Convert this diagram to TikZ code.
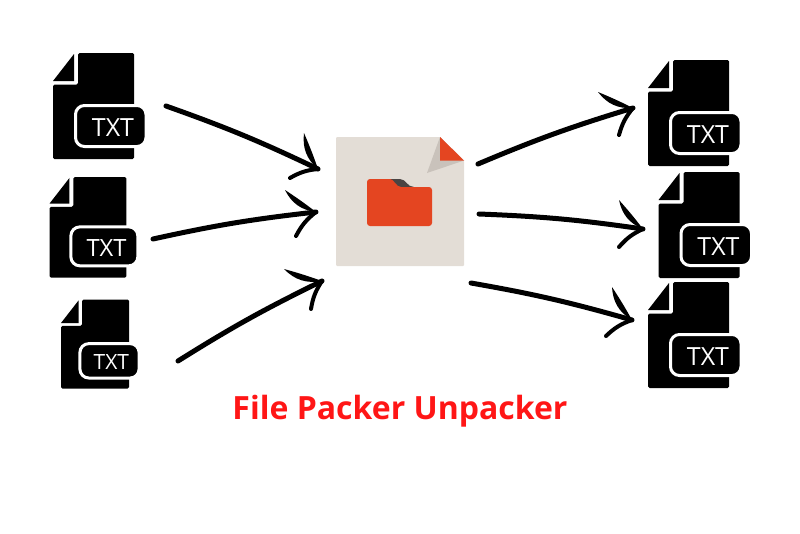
\documentclass[tikz,border=0pt]{standalone}
\usepackage{fontspec}
\setmainfont{Open Sans}
\usepackage{tikz}
\usetikzlibrary{calc}
\definecolor{paper}{HTML}{E3DDD6}
\definecolor{paperfold}{HTML}{C9C2BB}
\definecolor{folderred}{HTML}{E44521}
\definecolor{folderback}{HTML}{4A4443}
\definecolor{titlered}{HTML}{FF1616}
% name, left, top, scale
\newcommand{\txtfile}[4]{
  \begin{scope}[shift={(#2,#3)},scale=#4]
    \fill[rounded corners=1.5pt] (25,0) -- (81,0) -- (81,106) -- (0,106) -- (0,31.5) -- (25,31.5) -- cycle;
    \fill (21,1) -- (21,28) -- (0,28) -- cycle;
    \draw[badge] (22.5,52.5) rectangle (93,93.5);
    \node[txtlabel] (#1) at (60,74.5) {TXT};
  \end{scope}
}
% name, start, tip, upper barb, lower barb
\newcommand{\handarrow}[5]{
  \coordinate (#1start) at (#2);
  \coordinate (#1tip)   at (#3);
  \coordinate (#1up)    at (#4);
  \coordinate (#1low)   at (#5);
  \draw[shaft] (#1start) to[bend left=3] (#1tip);
  \fill (#1tip) to[bend left=28] (#1up) to[bend left=2] (#1tip);
  \draw[lowbarb] (#1tip) to[bend right=12] (#1low);
}
\begin{document}
\begin{tikzpicture}[x=1pt,y=-1pt]
\tikzstyle{badge}=[draw=white, fill=black, line width=3pt, rounded corners=9pt]
\tikzstyle{txtlabel}=[white, font=\fontsize{25}{25}\selectfont, inner sep=0pt, transform shape]
\tikzstyle{shaft}=[line width=5pt, line cap=round]
\tikzstyle{lowbarb}=[line width=4pt, line cap=round]
\tikzstyle{title}=[titlered, font=\fontsize{32}{32}\selectfont\bfseries, inner sep=0pt, anchor=base]

  \useasboundingbox (0,0) rectangle (800,533);

  \txtfile{txtinone}{53}{53}{1}
  \txtfile{txtintwo}{49.5}{177}{0.95}
  \txtfile{txtinthree}{61}{299.5}{0.84}

  \txtfile{txtoutone}{648}{60}{1}
  \txtfile{txtouttwo}{658.5}{172}{1}
  \txtfile{txtoutthree}{648}{282}{1}

  % packed file
  \fill[paper, rounded corners=1pt] (336,137) -- (440,137) -- (464,160.5) -- (464,266) -- (336,266) -- cycle;
  \fill[paperfold] (440,137) -- (464,160.5) -- (427,173) -- cycle;
  \fill[folderred] (440,137) -- (464,160.5) -- (440,160.5) -- cycle;
  \fill[folderback] (385,179) -- (400,179) .. controls (406,179) and (407,187) .. (414,187) -- (400,189) -- cycle;
  \fill[folderred, rounded corners=3pt] (367,179) -- (387,179) .. controls (394,179) and (396,187) .. (404,187) -- (432,187) -- (432,226) -- (367,226) -- cycle;

  \handarrow{inone}{166,106}{318,169}{304,133}{290,178}
  \handarrow{intwo}{153,239}{316,212}{285,190}{296,236}
  \handarrow{inthree}{178,361}{322,281}{284,269}{311,309}

  \handarrow{outone}{478,164}{633,108}{598,92}{619,135}
  \handarrow{outtwo}{479,214}{643,229}{619,200}{619,247}
  \handarrow{outthree}{471,283}{632,320}{612,287}{606,336}

  \node[title] (packer) at (400,419) {File Packer Unpacker};

\end{tikzpicture}
\end{document}
